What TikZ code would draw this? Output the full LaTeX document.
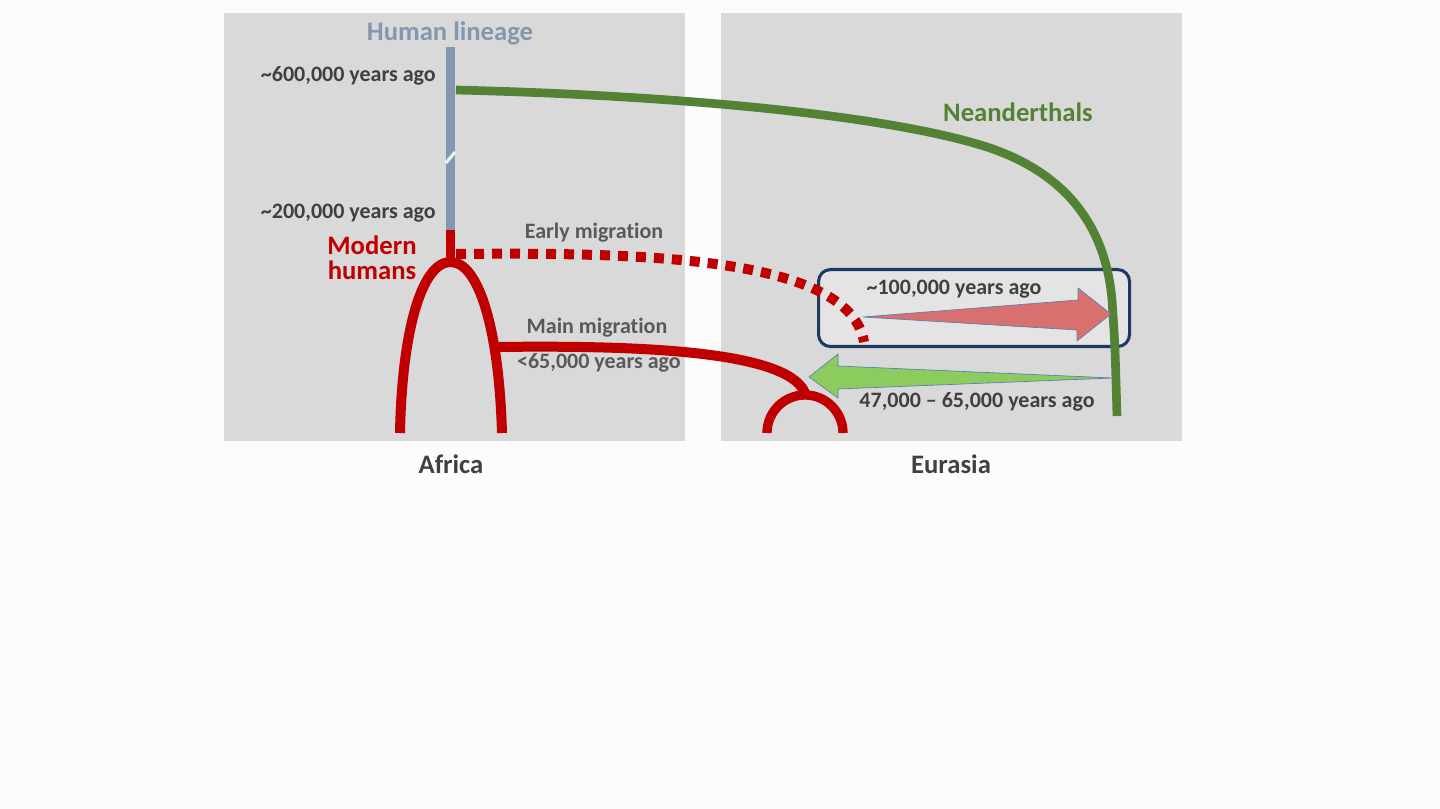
\documentclass[tikz,border=0pt]{standalone}
\usepackage{fontspec}
\setmainfont{Carlito}[Ligatures={NoCommon}]
\definecolor{panel}{HTML}{D9D9D9}
\definecolor{lineage}{HTML}{8497B0}
\definecolor{hred}{HTML}{C00000}
\definecolor{neander}{HTML}{548235}
\definecolor{navy}{HTML}{1F3864}
\definecolor{dark}{HTML}{404040}
\definecolor{mid}{HTML}{595959}
\definecolor{redarrow}{HTML}{D87070}
\definecolor{greenarrow}{HTML}{8CCB5E}
\definecolor{arrowedge}{HTML}{5A7DB5}
\begin{document}
\begin{tikzpicture}[x=0.75pt,y=-0.75pt,
  panelbox/.style={fill=panel,draw=none},
  bigtxt/.style={font=\bfseries\fontsize{20}{22}\selectfont,inner sep=0pt},
  yeartxt/.style={font=\bfseries\fontsize{16.5}{18}\selectfont,inner sep=0pt,text=dark},
  migtxt/.style={font=\bfseries\fontsize{16.5}{18}\selectfont,inner sep=0pt,text=mid},
  redline/.style={draw=hred,line width=7.5pt},
  greenline/.style={draw=neander,line width=6.5pt},
]
\useasboundingbox (0,0) rectangle (1440,809);
\fill[white!99!black] (0,0) rectangle (1440,809);
% panels
\node[panelbox,minimum width=461*0.75pt,minimum height=428*0.75pt,anchor=north west,inner sep=0pt] (africa) at (224,13) {};
\node[panelbox,minimum width=461*0.75pt,minimum height=428*0.75pt,anchor=north west,inner sep=0pt] (eurasia) at (721,13) {};
% box
\node[draw=navy,line width=2.3pt,rounded corners=9pt,fill=panel!70!white,minimum width=311*0.75pt,minimum height=77*0.75pt,anchor=north west,inner sep=0pt] (box) at (817,268) {};
% coordinates
\coordinate (ltop) at (450.5,47);
\coordinate (lsplit) at (450.5,230);
\coordinate (apex) at (450.5,262);
\coordinate (lleg) at (400,433);
\coordinate (rleg) at (502,433);
\coordinate (mainstart) at (497,347);
\coordinate (small) at (806,396);
\coordinate (earlyend) at (864,342);
\coordinate (nstart) at (456,90);
\coordinate (nend) at (1117,416);
% lineage
\draw[draw=lineage,line width=7pt] (ltop) -- (lsplit);
\draw[white!85!lineage,line width=2.4pt] (446,163) -- (455,152);
\draw[redline,line width=7pt] (lsplit) -- (apex);
% arch
\draw[redline] (lleg) .. controls (402,330) and (422,262) .. (apex) .. controls (479,262) and (499,330) .. (rleg);
% main migration
\draw[redline,line width=7.5pt] (mainstart) .. controls (650,345) and (795,352) .. (small);
% small arch
\draw[redline,line width=7pt] (767,433) arc[start angle=180,end angle=360,radius=38];
% early migration
\draw[redline,dash pattern=on 7.5pt off 6pt] (456,254) .. controls (650,252) and (850,258) .. (earlyend);
% Neanderthals
\draw[greenline] (nstart) .. controls (700,96) and (900,118) .. (990,148) .. controls (1060,172) and (1105,220) .. (1112,300) .. controls (1115,345) .. (nend);
% arrows
\draw[fill=redarrow,draw=arrowedge,line width=0.5pt] (863,317) -- (1078,300) -- (1078,288) -- (1111,314) -- (1077,341) -- (1077,330) -- cycle;
\draw[fill=greenarrow,draw=arrowedge,line width=0.5pt] (1113,378) -- (838,366) -- (838,354) -- (809,377) -- (838,398) -- (838,389) -- cycle;
% labels
\node[bigtxt,text=lineage] (lhuman) at (450,33) {Human lineage};
\node[yeartxt,anchor=east] (l600) at (436,76) {\textasciitilde 600,000 years ago};
\node[yeartxt,anchor=east] (l200) at (436,213) {\textasciitilde 200,000 years ago};
\node[bigtxt,text=hred,align=center] (lmodern) at (372,258) {Modern\\[-3pt]humans};
\node[migtxt] (learly) at (594,233) {Early migration};
\node[migtxt] (lmain) at (597,328) {Main migration};
\node[migtxt,anchor=east] (l65) at (681,363) {<65,000 years ago};
\node[bigtxt,text=neander] (lneander) at (1018,112) {Neanderthals};
\node[yeartxt] (l100) at (954,289) {\textasciitilde 100,000 years ago};
\node[yeartxt] (l47) at (977,402) {47,000 – 65,000 years ago};
\node[bigtxt,text=dark] (lafrica) at (451,464) {Africa};
\node[bigtxt,text=dark] (leurasia) at (951,464) {Eurasia};
\end{tikzpicture}
\end{document}
